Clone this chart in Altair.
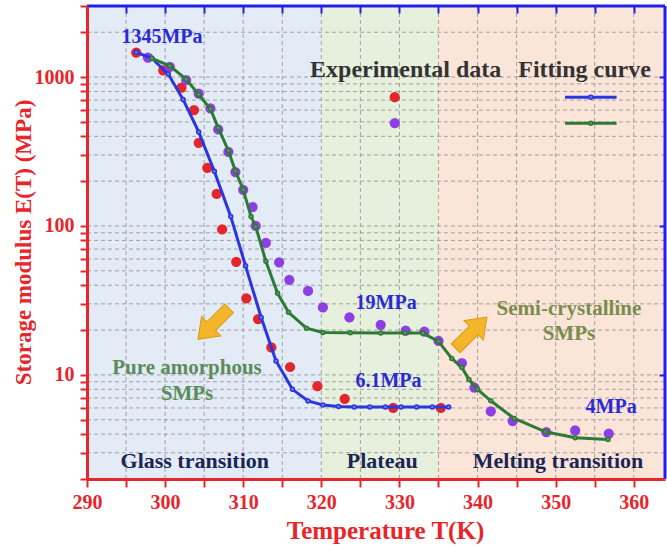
import altair as alt
import pandas as pd

# ---------------- data ----------------
red_T = [296.3, 299.75, 302.1, 303.7, 304.3, 305.4, 306.6, 307.3, 309.1, 310.4, 311.9,
         313.6, 316.0, 319.5, 323.0, 329.2, 335.3]
red_E = [1460, 1110, 850, 600, 362, 246, 164, 95, 57.5, 32.6, 23.7,
         15.3, 11.3, 8.4, 6.9, 6.0, 6.0]

purple_T = [297.8, 300.6, 302.7, 304.3, 305.8, 306.8, 308.1, 309.0, 310.0, 311.2, 311.6,
            312.9, 314.6, 315.9, 318.3, 320.2, 323.6, 327.6, 330.8, 333.2, 335.0, 338.0,
            339.6, 341.7, 344.5, 348.8, 352.5, 356.8]
purple_E = [1348, 1170, 955, 775, 615, 445, 314, 230, 175, 134, 100,
            77, 57, 43.5, 36.6, 28.4, 24.3, 21.7, 19.8, 19.5, 16.9, 12.0,
            8.2, 5.7, 4.9, 4.13, 4.24, 4.03]

blue_T = [296.3, 298.3, 300.4, 302.3, 304.3, 306.3, 308.4, 310.3, 312.3, 314.2, 316.3,
          318.3, 320.2, 322.2, 324.2, 326.2, 328.2, 330.2, 332.2, 334.2, 336.3]
blue_E = [1466, 1337, 1047, 708, 428, 233, 116, 54, 24.3, 12.4, 8.0,
          6.69, 6.28, 6.13, 6.1, 6.1, 6.1, 6.1, 6.1, 6.1, 6.1]

green_T = [298.3, 300.6, 302.7, 304.3, 305.8, 306.8, 308.1, 309.0, 310.0, 311.0, 311.6,
           312.9, 314.4, 315.8, 318.1, 320.2, 323.7, 327.6, 330.7, 333.0, 335.0, 336.7,
           338.0, 338.9, 340.0, 341.7, 344.7, 348.7, 352.5, 356.7]
green_E = [1337, 1190, 965, 764, 610, 457, 320, 234, 175, 116, 99,
           58, 35.3, 26.3, 20.6, 19.3, 19.2, 19.1, 19.1, 19.1, 16.8, 12.9,
           11.2, 9.3, 8.0, 6.7, 5.1, 4.15, 3.78, 3.69]

region_start = [290, 320, 335]
region_end = [320, 335, 364]
region_color = ["#e3ebf6", "#e6f0dd", "#fbe5d8"]

x_ticks = [290, 295, 300, 305, 310, 315, 320, 325, 330, 335, 340, 345, 350, 355, 360]
y_ticks = [2, 3, 4, 5, 6, 7, 8, 9, 10, 20, 30, 40, 50, 60, 70, 80, 90,
           100, 200, 300, 400, 500, 600, 700, 800, 900, 1000, 2000, 3000]
y_major = [10, 100, 1000]

ann_text = ["1345MPa", "19MPa", "6.1MPa", "4MPa",
            "Semi-crystalline", "SMPs", "Pure amorphous", "SMPs",
            "Glass transition", "Plateau", "Melting transition",
            "Experimental data", "Fitting curve"]
ann_T = [299.6, 328.3, 328.6, 357.1, 351.7, 351.7, 302.8, 302.8,
         303.8, 327.8, 350.3, 330.8, 353.7]
ann_E = [1857, 30.5, 9.1, 6.1, 27.8, 18.9, 11.1, 7.45,
         2.64, 2.64, 2.64, 1115, 1115]
ann_color = ["#2a2ad6", "#2a2ad6", "#2a2ad6", "#2a2ad6",
             "#7a8c4c", "#7a8c4c", "#5b8c5b", "#5b8c5b",
             "#1b2556", "#1b2556", "#1b2556", "#333333", "#333333"]
ann_size = [20, 20, 20, 20, 21, 21, 21, 21, 22, 22, 22, 24, 24]

arrow_T = [306.2, 339.2]
arrow_E = [22, 19.2]
arrow_angle = [135, 315]

# legend entries (data coordinates)
leg_pt_T = [329.4, 329.4]
leg_pt_E = [733, 490]
leg_line_T1 = [351.2, 351.2]
leg_line_T2 = [357.8, 357.8]
leg_line_E = [733, 490]
leg_mark_T = [354.5, 354.5]

# ---------------- styling ----------------
RED = "#e3262b"
PURPLE = "#8e3fe3"
BLUE = "#2b35e0"
GREEN = "#2e7a34"
BLUE_M = "#6f7df0"
GREEN_M = "#5f9c5f"
AX_RED = "#e8252a"
AX_BLUE = "#2020e8"
FONT = "Liberation Serif"
W, H = 578, 473

xs = alt.Scale(domain=[290, 364], nice=False, zero=False)
ys = alt.Scale(type="log", domain=[2, 3000], nice=False)

red_df = pd.DataFrame({"T": red_T, "E": red_E})
pur_df = pd.DataFrame({"T": purple_T, "E": purple_E})
blue_df = pd.DataFrame({"T": blue_T, "E": blue_E})
green_df = pd.DataFrame({"T": green_T, "E": green_E})
reg_df = pd.DataFrame({"a": region_start, "b": region_end, "c": region_color})
xg_df = pd.DataFrame({"v": x_ticks})
yg_df = pd.DataFrame({"v": y_ticks})
ann_df = pd.DataFrame({"T": ann_T, "E": ann_E, "t": ann_text, "c": ann_color, "s": ann_size})
arr_df = pd.DataFrame({"T": arrow_T, "E": arrow_E, "ang": arrow_angle})
legp_df = pd.DataFrame({"T": leg_pt_T, "E": leg_pt_E, "c": [RED, PURPLE]})
legl_df = pd.DataFrame({"T": leg_line_T1, "T2": leg_line_T2, "E": leg_line_E, "c": [BLUE, GREEN]})
legm_df = pd.DataFrame({"T": leg_mark_T, "E": leg_line_E, "c": [BLUE, GREEN],
                        "f": [BLUE_M, GREEN_M]})

bg = alt.Chart(reg_df).mark_rect().encode(
    x=alt.X("a:Q", scale=xs, axis=None),
    x2="b:Q",
    color=alt.Color("c:N", scale=None),
)

xgrid = alt.Chart(xg_df).mark_rule(color="#999999", strokeWidth=0.9, strokeDash=[4, 3]).encode(
    x=alt.X("v:Q", scale=xs, axis=None)
)
ygrid = alt.Chart(yg_df).mark_rule(color="#999999", strokeWidth=0.9, strokeDash=[4, 3]).encode(
    y=alt.Y("v:Q", scale=ys, axis=None)
)

red_pts = alt.Chart(red_df).mark_circle(size=105, color=RED, opacity=1).encode(
    x=alt.X("T:Q", scale=xs, axis=alt.Axis(
        orient="bottom", values=x_ticks, format="d", labelFlush=False,
        labelExpr="datum.value % 10 == 0 ? datum.label : ''",
        grid=False, domainColor=AX_RED, domainWidth=3, tickColor=AX_RED, tickWidth=2,
        tickSize=8, labelColor=AX_RED, labelFont=FONT, labelFontSize=20,
        labelFontWeight="bold", labelPadding=5, title="Temperature T(K)",
        titleColor=AX_RED, titleFont=FONT, titleFontSize=25, titleFontWeight="bold",
        titleX=298, titleY=51, titleAlign="center", titleBaseline="middle", zindex=1)),
    y=alt.Y("E:Q", scale=ys, axis=alt.Axis(
        orient="left", values=y_ticks, format="d",
        labelExpr="datum.value == 10 || datum.value == 100 || datum.value == 1000 ? datum.label : ''",
        grid=False, domainColor=AX_RED, domainWidth=3, tickColor=AX_RED, tickWidth=2,
        tickSize=7, labelColor=AX_RED, labelFont=FONT, labelFontSize=20,
        labelFontWeight="bold", labelPadding=6, title="Storage modulus E(T) (MPa)",
        titleColor=AX_RED, titleFont=FONT, titleFontSize=23, titleFontWeight="bold",
        titleX=-64, titleY=236, titleAlign="center", titleBaseline="middle", zindex=1)),
)

pur_pts = alt.Chart(pur_df).mark_circle(size=105, color=PURPLE, opacity=1).encode(
    x=alt.X("T:Q", scale=xs, axis=alt.Axis(
        orient="top", values=x_ticks, labels=False, domain=False, grid=False,
        tickColor=AX_BLUE, tickWidth=2, tickSize=7, offset=-7, title=None, zindex=1)),
    y=alt.Y("E:Q", scale=ys, axis=alt.Axis(
        orient="right", values=y_major, labels=False, domain=False, grid=False,
        tickColor=AX_BLUE, tickWidth=2, tickSize=6, offset=-6, title=None, zindex=1)),
)

blue_line = alt.Chart(blue_df).mark_line(
    color=BLUE, strokeWidth=3,
    point=alt.OverlayMarkDef(filled=True, fill=BLUE_M, stroke=BLUE, strokeWidth=1.5, size=16),
).encode(x=alt.X("T:Q", scale=xs, axis=None), y=alt.Y("E:Q", scale=ys, axis=None))

green_line = alt.Chart(green_df).mark_line(
    color=GREEN, strokeWidth=3,
    point=alt.OverlayMarkDef(filled=True, fill=GREEN_M, stroke=GREEN, strokeWidth=1.5, size=16),
).encode(x=alt.X("T:Q", scale=xs, axis=None), y=alt.Y("E:Q", scale=ys, axis=None))

texts = alt.Chart(ann_df).mark_text(font=FONT, fontWeight="bold", align="center",
                                    baseline="middle").encode(
    x=alt.X("T:Q", scale=xs, axis=None),
    y=alt.Y("E:Q", scale=ys, axis=None),
    text="t:N",
    color=alt.Color("c:N", scale=None),
    size=alt.Size("s:Q", scale=None),
)

ARROW = "M -1 -0.28 L 0.15 -0.28 L 0.15 -0.62 L 1 0 L 0.15 0.62 L 0.15 0.28 L -1 0.28 Z"
arrows = alt.Chart(arr_df).mark_point(shape=ARROW, filled=True, fill="#f2b52b",
                                      stroke="#d99c12", strokeWidth=1, size=1950, opacity=1).encode(
    x=alt.X("T:Q", scale=xs, axis=None),
    y=alt.Y("E:Q", scale=ys, axis=None),
    angle=alt.Angle("ang:Q", scale=None),
)

leg_pts = alt.Chart(legp_df).mark_circle(size=105, opacity=1).encode(
    x=alt.X("T:Q", scale=xs, axis=None),
    y=alt.Y("E:Q", scale=ys, axis=None),
    color=alt.Color("c:N", scale=None),
)
leg_lines = alt.Chart(legl_df).mark_rule(strokeWidth=3).encode(
    x=alt.X("T:Q", scale=xs, axis=None), x2="T2:Q",
    y=alt.Y("E:Q", scale=ys, axis=None),
    color=alt.Color("c:N", scale=None),
)
leg_marks = alt.Chart(legm_df).mark_point(filled=True, size=16, strokeWidth=1.5, opacity=1).encode(
    x=alt.X("T:Q", scale=xs, axis=None),
    y=alt.Y("E:Q", scale=ys, axis=None),
    stroke=alt.Stroke("c:N", scale=None),
    fill=alt.Fill("f:N", scale=None),
)

frame_df = pd.DataFrame({"k": [0]})
top_border = alt.Chart(frame_df).mark_rule(color=AX_BLUE, strokeWidth=3).encode(y=alt.value(0))
right_border = alt.Chart(frame_df).mark_rule(color=AX_BLUE, strokeWidth=3).encode(x=alt.value(W))

chart = alt.layer(
    bg, xgrid, ygrid, red_pts, pur_pts, blue_line, green_line, arrows, texts,
    leg_pts, leg_lines, leg_marks, top_border, right_border,
).resolve_axis(x="independent", y="independent").properties(
    width=W, height=H,
    autosize=alt.AutoSizeParams(type="none"),
    padding={"left": 87, "top": 6, "right": 2, "bottom": 68},
    background="white",
).configure_view(stroke=None)

chart.save("out.html", embed_options={"renderer": "svg", "actions": False})
